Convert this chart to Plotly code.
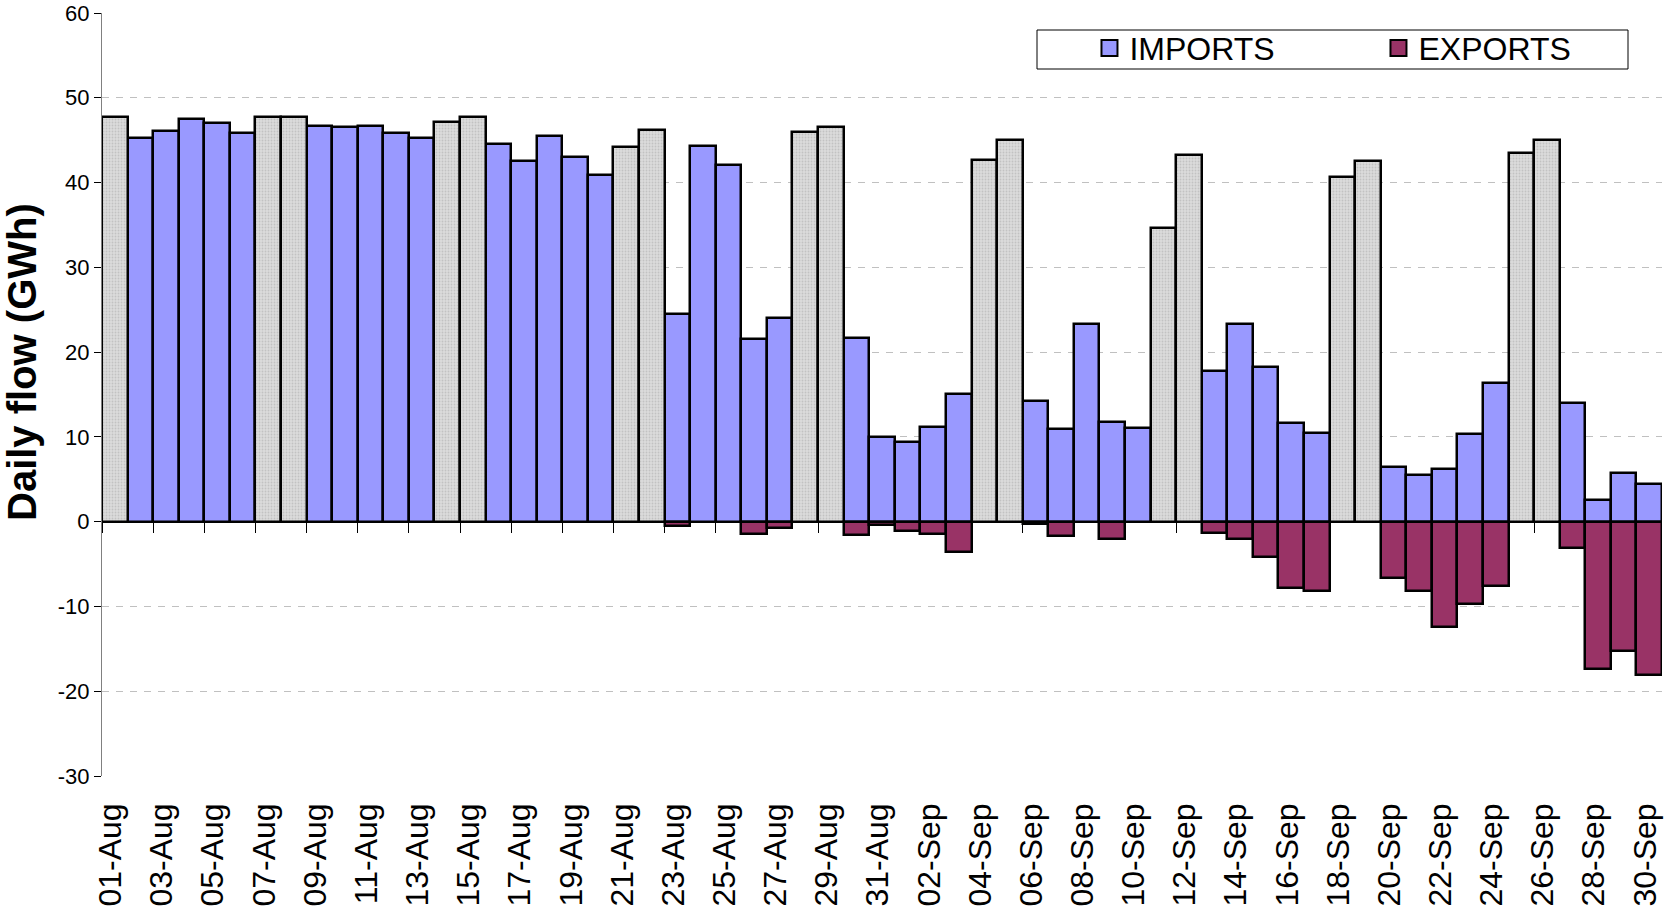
import pandas as pd
import plotly.graph_objects as go

# daily interconnector flows, 01-Aug .. 30-Sep (GWh)
days = pd.date_range("2010-08-01", "2010-09-30", freq="D")
day_labels = [d.strftime("%d-%b") for d in days]
is_weekend = [d.dayofweek >= 5 for d in days]

imports = [
    47.7, 45.3, 46.1, 47.5, 47.0, 45.9, 47.7, 47.7, 46.7, 46.6,
    46.7, 45.8, 45.3, 47.2, 47.7, 44.6, 42.6, 45.5, 43.0, 40.9,
    44.2, 46.2, 24.5, 44.3, 42.1, 21.5, 24.0, 46.0, 46.6, 21.7,
    10.0, 9.4, 11.2, 15.1, 42.7, 45.0, 14.2, 10.9, 23.3, 11.7,
    11.0, 34.6, 43.3, 17.8, 23.3, 18.2, 11.6, 10.5, 40.6, 42.5,
    6.4, 5.5, 6.2, 10.4, 16.4, 43.5, 45.0, 14.0, 2.5, 5.8,
    4.5,
]
exports = [
    None, None, None, None, None, None, None, None, None, None,
    None, None, None, None, None, None, None, None, None, None,
    None, None, -0.55, None, None, -1.4, -0.8, None, None, -1.6,
    -0.35, -1.1, -1.5, -3.6, None, None, -0.3, -1.7, None, -2.0,
    None, None, None, -1.3, -2.0, -4.2, -7.8, -8.2, None, None,
    -6.6, -8.2, -12.4, -9.7, -7.6, None, None, -3.1, -17.4, -15.2,
    -18.1,
]

y_range = [-30, 60]
y_ticks = list(range(-30, 61, 10))

colors = {
    'imports': '#9999FF',
    'exports': '#993366',
    'weekend': '#dcdcdc',
    'grid': '#c0c0c0',
}
FONT = "Arial, 'Liberation Sans', sans-serif"

x = list(range(len(days)))
weekday_imp = [v if not w else None for v, w in zip(imports, is_weekend)]
weekend_imp = [v if w else None for v, w in zip(imports, is_weekend)]

fig = go.Figure()

# weekday imports
fig.add_trace(go.Bar(
    x=x, y=weekday_imp, name='IMPORTS', showlegend=False,
    marker=dict(color=colors['imports'], line=dict(color='black', width=2.5)),
))
# weekend imports (hatched grey, not in legend)
fig.add_trace(go.Bar(
    x=x, y=weekend_imp, name='weekend', showlegend=False,
    marker=dict(color=colors['weekend'], line=dict(color='black', width=2.5),
                pattern=dict(shape='.', fgcolor='#a8a8a8', bgcolor=colors['weekend'],
                             size=3, solidity=0.3)),
))
# exports, drawn on the overlaid axis that carries the zero line ticks
fig.add_trace(go.Bar(
    x=x, y=exports, name='EXPORTS', showlegend=False, xaxis='x2',
    marker=dict(color=colors['exports'], line=dict(color='black', width=2.5)),
))

# legend entries
for name, col in [('IMPORTS', colors['imports']), ('EXPORTS', colors['exports'])]:
    fig.add_trace(go.Scatter(
        x=[None], y=[None], mode='markers', name=name,
        marker=dict(symbol='square', size=16, color=col, line=dict(color='black', width=2)),
    ))

zero_pos = (0 - y_range[0]) / (y_range[1] - y_range[0])

fig.update_layout(
    width=1664,
    height=914,
    margin=dict(l=102, r=2, t=13, b=138, autoexpand=False),
    paper_bgcolor='white',
    plot_bgcolor='white',
    barmode='relative',
    bargap=0,
    font=dict(family=FONT, color='black'),
    xaxis=dict(
        range=[-0.5, len(days) - 0.5],
        tickmode='array',
        tickvals=x[::2],
        ticktext=day_labels[::2],
        tickangle=-90,
        tickfont=dict(size=32),
        ticks='',
        ticklabelstandoff=20,
        ticklabelshift=-4,
        ticklabeloverflow='allow',
        automargin=False,
        showgrid=False,
        showline=False,
        zeroline=False,
    ),
    xaxis2=dict(
        matches='x',
        overlaying='x',
        anchor='free',
        position=zero_pos,
        side='bottom',
        tickmode='array',
        tickvals=[i - 0.5 for i in x[::2]],
        showticklabels=False,
        ticks='outside',
        ticklen=10,
        tickcolor='black',
        tickwidth=1,
        showline=True,
        linecolor='black',
        linewidth=2,
        showgrid=False,
        zeroline=False,
        automargin=False,
    ),
    yaxis=dict(
        range=y_range,
        tickmode='array',
        tickvals=y_ticks,
        ticktext=[str(v) for v in y_ticks],
        tickfont=dict(size=22),
        ticks='outside',
        ticklen=7,
        tickcolor='black',
        showline=True,
        linecolor='#808080',
        linewidth=1,
        showgrid=True,
        gridcolor=colors['grid'],
        griddash='7px,7px',
        gridwidth=1,
        zeroline=True,
        zerolinecolor='black',
        zerolinewidth=2,
        automargin=False,
    ),
    legend=dict(
        orientation='h',
        x=0.633, y=0.99,
        xanchor='left', yanchor='top',
        font=dict(size=32),
        entrywidth=244,
        bgcolor='rgba(0,0,0,0)',
        borderwidth=0,
    ),
    shapes=[dict(
        type='rect', xref='paper', yref='paper',
        x0=(1037 - 102) / 1560, x1=(1628 - 102) / 1560,
        y0=(776 - 69) / 763, y1=(776 - 30) / 763,
        line=dict(color='black', width=1), fillcolor='white', layer='below',
    )],
    annotations=[dict(
        text='<b>Daily flow (GWh)</b>',
        xref='paper', yref='paper',
        x=(22 - 102) / 1560, y=(776 - 362) / 763,
        xanchor='center', yanchor='middle',
        textangle=-90, showarrow=False,
        font=dict(size=40),
    )],
)

fig.write_html("out.html", config={'displayModeBar': False},
               post_script="document.body.style.margin='0';")
